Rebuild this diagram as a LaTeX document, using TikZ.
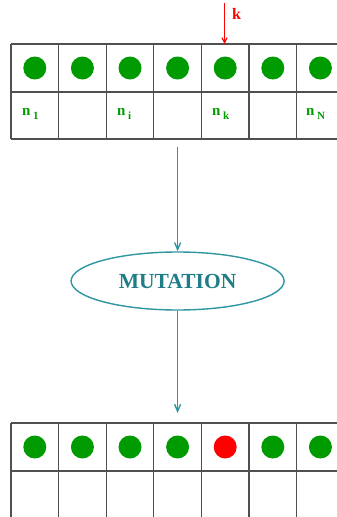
\documentclass[tikz,border=0pt]{standalone}
\usepackage{fontspec}
\setmainfont{Liberation Serif}
\usetikzlibrary{arrows.meta,shapes.geometric}
\definecolor{dotgreen}{RGB}{0,155,0}
\definecolor{teal1}{RGB}{45,150,160}
\definecolor{tealtext}{RGB}{30,125,135}
\definecolor{gridgray}{RGB}{80,80,80}
\newcommand{\lblsub}[1]{\,\raisebox{-4pt}{\fontsize{11}{13}\selectfont #1}}
\begin{document}
\begin{tikzpicture}[x=1pt,y=-1pt,
  gridline/.style={draw=gridgray,line width=1.2pt},
  dot/.style={circle,fill=dotgreen,minimum size=23pt,inner sep=0pt},
  reddot/.style={circle,fill=red,minimum size=23pt,inner sep=0pt},
  lbl/.style={anchor=base west,text=dotgreen,font=\bfseries\fontsize{15}{17}\selectfont,inner sep=0pt},
  flow/.style={draw=teal1,line width=1.4pt,-{Straight Barb[length=7pt,width=6pt]}},
  oval/.style={ellipse,draw=teal1,line width=1.4pt,minimum width=213pt,minimum height=58pt,inner sep=0pt,text=tealtext,font=\bfseries\fontsize{21.5}{24}\selectfont}]
\useasboundingbox (0,0) rectangle (337,517);
% top grid
\foreach \r in {44,92,139} \draw[gridline] (11,\r) -- (345,\r);
\foreach \c in {0,...,6} \draw[gridline] ({11+47.6*\c},44) -- ({11+47.6*\c},139);
% bottom grid
\foreach \r in {423,471} \draw[gridline] (11,\r) -- (345,\r);
\foreach \c in {0,...,6} \draw[gridline] ({11+47.6*\c},423) -- ({11+47.6*\c},520);
% top dots
\foreach \c in {1,...,7} \node[dot] (t\c) at ({34.8+47.6*(\c-1)},68) {};
% bottom dots
\foreach \c in {1,2,3,4,6,7} \node[dot] (b\c) at ({34.8+47.6*(\c-1)},447) {};
\node[reddot] (b5) at (225.2,447) {};
% labels
\node[lbl] (l1) at (22,115) {n\lblsub{1}};
\node[lbl] (li) at (117,115) {n\lblsub{i}};
\node[lbl] (lk) at (212,115) {n\lblsub{k}};
\node[lbl] (lN) at (306,115) {n\lblsub{N}};
% k arrow
\coordinate (ktop) at (224.5,3);
\coordinate (kbot) at (224.5,44);
\draw[red,line width=1.2pt,-{Straight Barb[length=5pt,width=5pt]}] (ktop) -- (kbot);
\node[anchor=west,text=red,font=\bfseries\fontsize{16}{18}\selectfont,inner sep=0pt] (klbl) at (232,14) {k};
% mutation
\node[oval] (mut) at (177.6,281) {MUTATION};
\coordinate (topout) at (177.6,147);
\coordinate (botin) at (177.6,413);
\draw[flow] (topout) -- (mut.north);
\draw[flow] (mut.south) -- (botin);
\end{tikzpicture}
\end{document}
